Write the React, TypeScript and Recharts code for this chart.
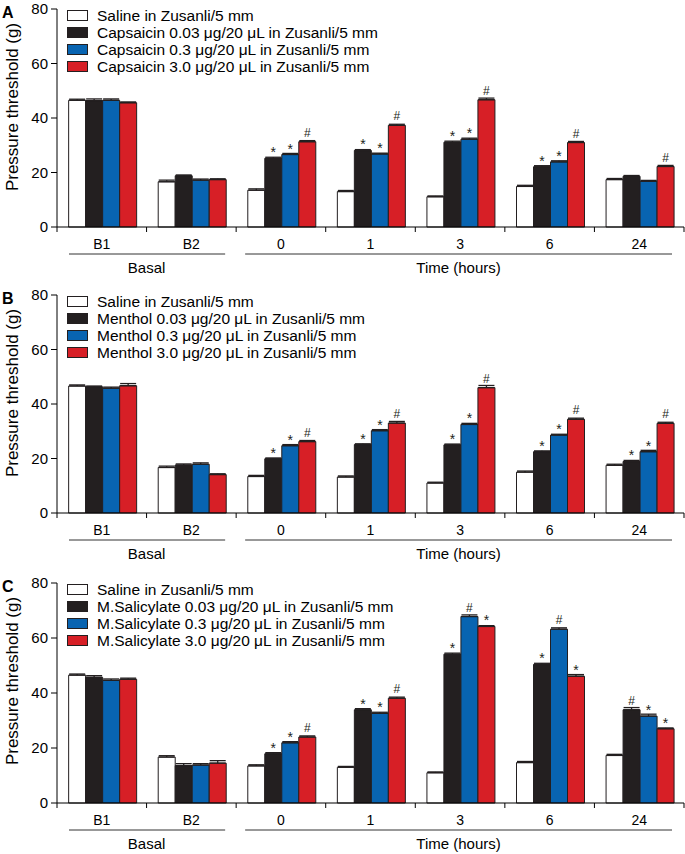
import React from "react";
import { BarChart, Bar, XAxis, YAxis, ErrorBar, LabelList } from "recharts";

const CATEGORIES = ["B1", "B2", "0", "1", "3", "6", "24"];
const Y_TICKS = [0, 20, 40, 60, 80];

// Panel A - capsaicin
const A_SALINE = [46.5, 16.6, 13.5, 13.0, 11.1, 14.9, 17.4];
const A_LOW = [46.4, 18.8, 25.2, 28.1, 31.1, 22.1, 18.6];
const A_MID = [46.5, 17.2, 26.6, 26.8, 32.2, 23.9, 16.8];
const A_HIGH = [45.6, 17.4, 31.3, 37.3, 46.7, 31.0, 22.2];
const A_SALINE_ERR = [0.4, 0.6, 0.5, 0.4, 0.3, 0.4, 0.4];
const A_LOW_ERR = [0.6, 0.3, 0.4, 0.3, 0.4, 0.4, 0.3];
const A_MID_ERR = [0.5, 0.4, 0.4, 0.3, 0.4, 0.4, 0.3];
const A_HIGH_ERR = [0.3, 0.3, 0.4, 0.4, 0.6, 0.4, 0.4];
const A_LOW_MARK = ["", "", "*", "*", "*", "*", ""];
const A_MID_MARK = ["", "", "*", "*", "*", "*", ""];
const A_HIGH_MARK = ["", "", "#", "#", "#", "#", "#"];
const A_LEGEND = [
  "Saline in Zusanli/5 mm",
  "Capsaicin 0.03 \u03bcg/20 \u03bcL in Zusanli/5 mm",
  "Capsaicin 0.3 \u03bcg/20 \u03bcL in Zusanli/5 mm",
  "Capsaicin 3.0 \u03bcg/20 \u03bcL in Zusanli/5 mm",
];

// Panel B - menthol
const B_SALINE = [46.6, 16.7, 13.4, 13.2, 11.0, 15.0, 17.5];
const B_LOW = [46.3, 17.6, 19.9, 25.1, 25.0, 22.5, 18.9];
const B_MID = [45.8, 17.9, 24.7, 30.2, 32.5, 28.6, 22.5];
const B_HIGH = [46.7, 14.1, 26.2, 33.0, 46.0, 34.4, 32.9];
const B_SALINE_ERR = [0.4, 0.5, 0.4, 0.4, 0.3, 0.4, 0.4];
const B_LOW_ERR = [0.3, 0.4, 0.3, 0.3, 0.3, 0.3, 0.4];
const B_MID_ERR = [0.4, 0.5, 0.4, 0.4, 0.4, 0.3, 0.5];
const B_HIGH_ERR = [0.8, 0.3, 0.4, 0.6, 0.8, 0.4, 0.4];
const B_LOW_MARK = ["", "", "*", "*", "*", "*", "*"];
const B_MID_MARK = ["", "", "*", "*", "*", "*", "*"];
const B_HIGH_MARK = ["", "", "#", "#", "#", "#", "#"];
const B_LEGEND = [
  "Saline in Zusanli/5 mm",
  "Menthol 0.03 \u03bcg/20 \u03bcL in Zusanli/5 mm",
  "Menthol 0.3 \u03bcg/20 \u03bcL in Zusanli/5 mm",
  "Menthol 3.0 \u03bcg/20 \u03bcL in Zusanli/5 mm",
];

// Panel C - methyl salicylate
const C_SALINE = [46.5, 16.7, 13.5, 13.0, 11.0, 14.7, 17.3];
const C_LOW = [45.7, 13.6, 17.9, 33.9, 54.1, 50.4, 33.9];
const C_MID = [44.6, 13.8, 21.9, 32.6, 67.8, 63.2, 31.6];
const C_HIGH = [45.0, 14.5, 24.0, 38.1, 64.2, 46.1, 27.0];
const C_SALINE_ERR = [0.4, 0.5, 0.4, 0.3, 0.3, 0.4, 0.4];
const C_LOW_ERR = [0.6, 0.7, 0.4, 0.4, 0.4, 0.4, 0.8];
const C_MID_ERR = [0.5, 0.5, 0.4, 0.4, 0.6, 0.5, 0.7];
const C_HIGH_ERR = [0.4, 0.9, 0.4, 0.4, 0.3, 0.6, 0.3];
const C_LOW_MARK = ["", "", "*", "*", "*", "*", "#"];
const C_MID_MARK = ["", "", "*", "*", "#", "#", "*"];
const C_HIGH_MARK = ["", "", "#", "#", "*", "*", "*"];
const C_LEGEND = [
  "Saline in Zusanli/5 mm",
  "M.Salicylate 0.03 \u03bcg/20 \u03bcL in Zusanli/5 mm",
  "M.Salicylate 0.3 \u03bcg/20 \u03bcL in Zusanli/5 mm",
  "M.Salicylate 3.0 \u03bcg/20 \u03bcL in Zusanli/5 mm",
];

const FONT = '"Liberation Sans", Arial, Helvetica, sans-serif';
const INK = "#231f20";
const SERIES = [
  { key: "saline", fill: "#ffffff" },
  { key: "low", fill: "#231f20" },
  { key: "mid", fill: "#0864b1" },
  { key: "high", fill: "#d71f26" },
];

const WIDTH = 685;
const PLOT_LEFT = 57;
const PLOT_RIGHT = 684;
const TOP_PAD = 12;
const XAXIS_H = 60;
const HALF_BAND = (PLOT_RIGHT - PLOT_LEFT) / CATEGORIES.length / 2;

function buildRows(values: number[][], errs: number[][], marks: string[][]) {
  return CATEGORIES.map((cat, i) => {
    const row: any = { cat };
    SERIES.forEach((s, j) => {
      row[s.key] = values[j][i];
      row[s.key + "Err"] = [0, errs[j][i]];
      row[s.key + "Mark"] = j === 0 ? "" : marks[j - 1][i];
    });
    return row;
  });
}

const PANELS = [
  {
    letter: "A",
    top: 9,
    bottom: 227,
    legend: A_LEGEND,
    rows: buildRows(
      [A_SALINE, A_LOW, A_MID, A_HIGH],
      [A_SALINE_ERR, A_LOW_ERR, A_MID_ERR, A_HIGH_ERR],
      [A_LOW_MARK, A_MID_MARK, A_HIGH_MARK]
    ),
  },
  {
    letter: "B",
    top: 295,
    bottom: 513,
    legend: B_LEGEND,
    rows: buildRows(
      [B_SALINE, B_LOW, B_MID, B_HIGH],
      [B_SALINE_ERR, B_LOW_ERR, B_MID_ERR, B_HIGH_ERR],
      [B_LOW_MARK, B_MID_MARK, B_HIGH_MARK]
    ),
  },
  {
    letter: "C",
    top: 583,
    bottom: 803,
    legend: C_LEGEND,
    rows: buildRows(
      [C_SALINE, C_LOW, C_MID, C_HIGH],
      [C_SALINE_ERR, C_LOW_ERR, C_MID_ERR, C_HIGH_ERR],
      [C_LOW_MARK, C_MID_MARK, C_HIGH_MARK]
    ),
  },
];

function CategoryTick(props: any) {
  const { x, index, payload, axisY } = props;
  const last = index === CATEGORIES.length - 1;
  const basalStart = x - HALF_BAND + 12;
  const basalEnd = x + 3 * HALF_BAND - 11;
  const timeStart = x - HALF_BAND + 9;
  const timeEnd = x + 9 * HALF_BAND - 12;
  return (
    <g>
      <line x1={x - HALF_BAND} x2={x - HALF_BAND} y1={axisY} y2={axisY + 5} stroke="#000" />
      {last && <line x1={x + HALF_BAND} x2={x + HALF_BAND} y1={axisY} y2={axisY + 5} stroke="#000" />}
      <text x={x} y={axisY + 22} textAnchor="middle" fontSize={14} fontFamily={FONT} fill="#000">
        {payload.value}
      </text>
      {index === 0 && (
        <g>
          <line x1={basalStart} x2={basalEnd} y1={axisY + 27} y2={axisY + 27} stroke="#333" />
          <text x={x + HALF_BAND} y={axisY + 46} textAnchor="middle" fontSize={15} fontFamily={FONT} fill="#000">
            Basal
          </text>
        </g>
      )}
      {index === 2 && (
        <g>
          <line x1={timeStart} x2={timeEnd} y1={axisY + 27} y2={axisY + 27} stroke="#333" />
          <text x={(timeStart + timeEnd) / 2} y={axisY + 46} textAnchor="middle" fontSize={15} fontFamily={FONT} fill="#000">
            Time (hours)
          </text>
        </g>
      )}
    </g>
  );
}

function renderMark(props: any) {
  const { x, y, width, value } = props;
  if (!value) return null;
  const star = value === "*";
  return (
    <text
      x={x + width / 2}
      y={star ? y - 1 : y - 5}
      textAnchor="middle"
      fontSize={star ? 14 : 12}
      fontFamily={FONT}
      fill={INK}
    >
      {value}
    </text>
  );
}

function Panel({ panel }: { panel: (typeof PANELS)[number] }) {
  const plotH = panel.bottom - panel.top;
  const axisY = TOP_PAD + plotH;
  return (
    <div style={{ position: "absolute", left: 0, top: panel.top - TOP_PAD, width: WIDTH, height: plotH + TOP_PAD + XAXIS_H }}>
      <BarChart
        width={WIDTH}
        height={plotH + TOP_PAD + XAXIS_H}
        data={panel.rows}
        margin={{ top: TOP_PAD, right: WIDTH - PLOT_RIGHT, left: 0, bottom: 0 }}
        barCategoryGap="13%"
        barGap={0}
      >
        <XAxis
          dataKey="cat"
          interval={0}
          height={XAXIS_H}
          tickLine={false}
          axisLine={{ stroke: "#000" }}
          tick={(p: any) => <CategoryTick {...p} axisY={axisY} />}
        />
        <YAxis
          width={PLOT_LEFT}
          domain={[0, 80]}
          ticks={Y_TICKS}
          interval={0}
          tickSize={6}
          tickMargin={3}
          axisLine={{ stroke: "#000" }}
          tickLine={{ stroke: "#000" }}
          tick={{ fill: "#000", fontSize: 15, fontFamily: FONT }}
        />
        {SERIES.map((s) => (
          <Bar key={s.key} dataKey={s.key} fill={s.fill} stroke={INK} strokeWidth={1} isAnimationActive={false}>
            <ErrorBar dataKey={s.key + "Err"} width={8} stroke={INK} strokeWidth={1.3} direction="y" />
            <LabelList dataKey={s.key + "Mark"} content={renderMark} />
          </Bar>
        ))}
      </BarChart>
      <div
        style={{
          position: "absolute",
          left: 2,
          top: TOP_PAD - 4,
          fontFamily: FONT,
          fontWeight: "bold",
          fontSize: 16,
          lineHeight: "16px",
        }}
      >
        {panel.letter}
      </div>
      <div
        style={{
          position: "absolute",
          left: 12,
          top: TOP_PAD + 98,
          transform: "translate(-50%, -50%) rotate(-90deg)",
          whiteSpace: "nowrap",
          fontFamily: FONT,
          fontSize: 17,
          lineHeight: "17px",
        }}
      >
        Pressure threshold (g)
      </div>
      {panel.legend.map((label, i) => (
        <div
          key={label}
          style={{
            position: "absolute",
            left: 67,
            top: TOP_PAD + 0.5 + i * 17.2,
            height: 11,
            display: "flex",
            alignItems: "center",
            whiteSpace: "nowrap",
          }}
        >
          <div
            style={{
              width: 19,
              height: 9,
              background: SERIES[i].fill,
              border: `1px solid ${INK}`,
              marginRight: 9,
            }}
          />
          <span style={{ fontFamily: FONT, fontSize: 15.5, lineHeight: "11px" }}>{label}</span>
        </div>
      ))}
    </div>
  );
}

export default function App() {
  return (
    <div style={{ position: "absolute", left: 0, top: 0, width: WIDTH, height: 854, background: "#fff" }}>
      {PANELS.map((p) => (
        <Panel key={p.letter} panel={p} />
      ))}
    </div>
  );
}
